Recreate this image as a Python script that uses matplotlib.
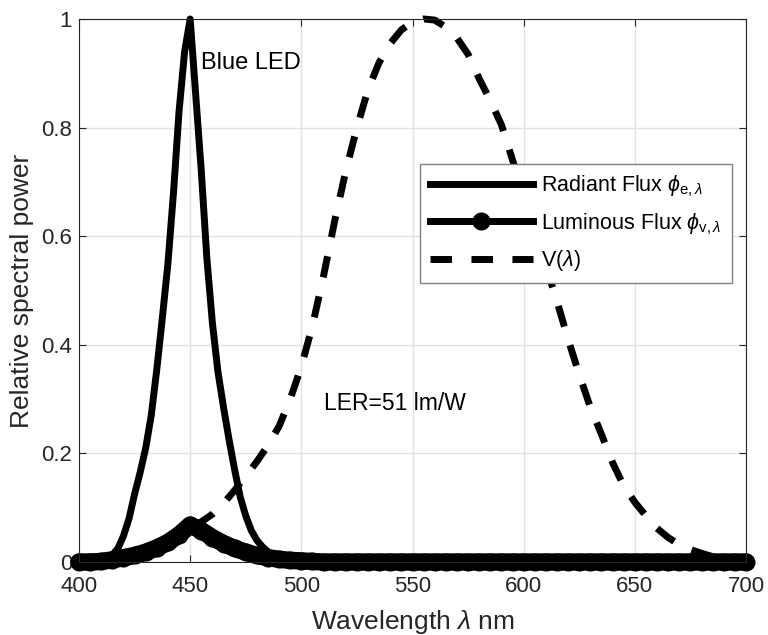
#! /usr/bin/env python3

# blue LED spectrum against the eye sensitivity curve V(lambda)

import numpy as np
import matplotlib
matplotlib.use('Agg')
import matplotlib.pyplot as plt

# wavelength grid (nm), 5 nm steps
wavelength = np.arange(400, 701, 5)

# radiant flux of the blue LED (normalised), finer steps around the peak
led_wavelength = [400, 405, 410, 412.5, 415, 417.5, 420, 422.5, 425, 427.5,
                  430, 432.5, 435, 437.5, 440, 442.5, 445, 447.5, 450, 452.5,
                  455, 457.5, 460, 462.5, 465, 467.5, 470, 472.5, 475, 477.5,
                  480, 482.5, 485, 487.5, 490, 492.5, 495, 500, 700]
radiant = [0.0, 0.0, 0.003, 0.007, 0.013, 0.025, 0.048, 0.08, 0.125, 0.165,
           0.21, 0.27, 0.355, 0.45, 0.55, 0.68, 0.83, 0.94, 1.0, 0.86,
           0.72, 0.56, 0.44, 0.35, 0.285, 0.225, 0.17, 0.12, 0.085, 0.058,
           0.04, 0.028, 0.019, 0.012, 0.007, 0.004, 0.002, 0.0, 0.0]

# luminous flux of the same LED (radiant flux weighted by V)
luminous = [0.0, 0.0, 0.001, 0.004, 0.008, 0.012, 0.018, 0.026, 0.036, 0.05,
            0.068, 0.058, 0.045, 0.034, 0.025, 0.018, 0.012, 0.008, 0.005, 0.003,
            0.002, 0.001] + [0.0] * 39

# photopic eye sensitivity V(lambda)
v_lambda = [0.002, 0.004, 0.006, 0.009, 0.013, 0.018, 0.024, 0.032, 0.041, 0.052,
            0.064, 0.074, 0.088, 0.108, 0.132, 0.158, 0.185, 0.215, 0.25, 0.3,
            0.36, 0.435, 0.527, 0.628, 0.72, 0.80, 0.87, 0.92, 0.955, 0.98,
            0.994, 1.0, 0.998, 0.985, 0.965, 0.935, 0.89, 0.85, 0.805, 0.74,
            0.68, 0.61, 0.545, 0.48, 0.41, 0.345, 0.285, 0.235, 0.183, 0.14,
            0.11, 0.085, 0.062, 0.045, 0.032, 0.023, 0.016, 0.01, 0.006, 0.003,
            0.002]

x_ticks = [400, 450, 500, 550, 600, 650, 700]
y_ticks = [0, 0.2, 0.4, 0.6, 0.8, 1]
y_tick_labels = ['0', '0.2', '0.4', '0.6', '0.8', '1']

plt.rcParams['font.family'] = ['Liberation Sans', 'DejaVu Sans']
plt.rcParams['mathtext.fontset'] = 'custom'
plt.rcParams['mathtext.rm'] = 'Liberation Sans'
plt.rcParams['mathtext.it'] = 'Liberation Sans:italic'
plt.rcParams['mathtext.fallback'] = 'stix'

axis_grey = '#262626'

fig = plt.figure(figsize=(7.68, 6.35), dpi=100)
ax = fig.add_axes([79 / 768, 73 / 635, 667 / 768, 543 / 635])

# the three curves, all black
ax.plot(led_wavelength, radiant, color='k', lw=5, solid_joinstyle='round',
        clip_on=False, label=r'Radiant Flux $\phi_{\mathrm{e},\lambda}$')
# thick band under the luminous flux markers
ax.plot(wavelength, luminous, color='k', lw=12.5, solid_joinstyle='round',
        solid_capstyle='round', clip_on=False)
ax.plot(wavelength, luminous, color='k', lw=5, marker='o', ms=12,
        mfc='k', mec='k', clip_on=False,
        label=r'Luminous Flux $\phi_{\mathrm{v},\lambda}$')
ax.plot(wavelength, v_lambda, color='k', lw=5, dashes=(3.1, 2.8),
        dash_capstyle='butt', clip_on=False, label=r'V($\lambda$)')

ax.text(455, 0.919, 'Blue LED', fontsize=17, ha='left', va='center')
ax.text(510, 0.291, 'LER=51 lm/W', fontsize=16.5, ha='left', va='center')

ax.set_xlim(400, 700)
ax.set_ylim(0, 1)
ax.set_xticks(x_ticks)
ax.set_yticks(y_ticks)
ax.set_yticklabels(y_tick_labels)

ax.grid(True, color='#e2e2e2', lw=1)
ax.set_axisbelow(True)
ax.tick_params(direction='in', top=True, right=True, length=5, width=0.8,
               colors=axis_grey, labelsize=16)
ax.tick_params(axis='x', pad=10)
ax.tick_params(axis='y', pad=5)
for side in ax.spines.values():
    side.set_color(axis_grey)
    side.set_linewidth(0.8)

ax.set_xlabel(r'Wavelength $\lambda$ nm', fontsize=19, color=axis_grey, labelpad=8)
ax.set_ylabel('Relative spectral power', fontsize=19, color=axis_grey, labelpad=5)

leg = ax.legend(loc='upper left', bbox_to_anchor=(0.511, 0.733), borderaxespad=0,
                fontsize=15.5, handlelength=4.8, handletextpad=0.4,
                borderpad=0.45, labelspacing=0.55, fancybox=False, framealpha=1)
leg.get_frame().set_edgecolor('#808080')
leg.get_frame().set_linewidth(1)

plt.savefig('out.png', dpi=100)
